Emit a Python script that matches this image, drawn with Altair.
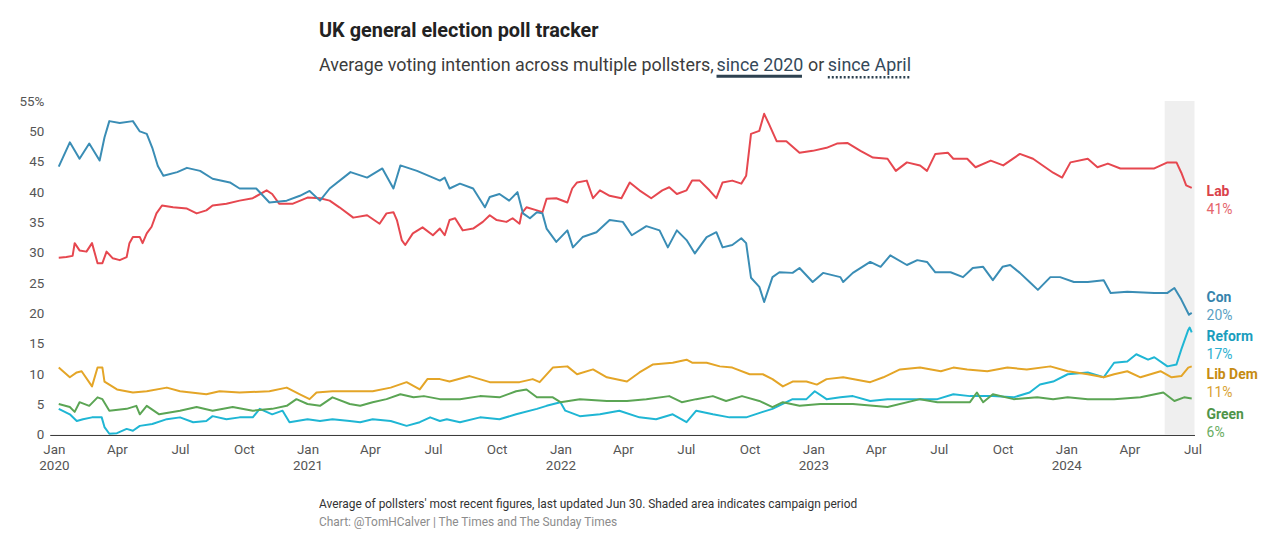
import altair as alt
import pandas as pd

# ---------------- data ----------------
PARTIES = ["Lab", "Con", "Reform", "Lib Dem", "Green"]

LAB = [("2020-01-08",29.2),("2020-01-19",29.3),("2020-01-28",29.5),("2020-01-31",31.6),("2020-02-07",30.4),("2020-02-17",30.2),("2020-02-25",31.6),("2020-03-04",28.3),("2020-03-11",28.3),("2020-03-17",30.2),("2020-03-26",29.1),("2020-04-05",28.8),("2020-04-15",29.3),("2020-04-19",31.6),("2020-04-24",32.6),("2020-05-04",32.6),("2020-05-08",31.6),("2020-05-14",33.2),("2020-05-21",34.3),("2020-05-28",36.5),("2020-06-05",37.8),("2020-06-21",37.5),("2020-07-11",37.3),("2020-07-25",36.5),("2020-08-08",37.0),("2020-08-17",37.8),("2020-09-06",38.1),("2020-09-25",38.6),("2020-10-14",39.0),("2020-11-03",40.3),("2020-11-11",39.7),("2020-11-21",38.1),("2020-12-11",38.1),("2021-01-01",39.1),("2021-01-19",39.0),("2021-02-02",38.6),("2021-02-16",37.5),("2021-03-08",35.8),("2021-03-28",36.2),("2021-04-15",34.8),("2021-04-25",36.5),("2021-05-05",36.7),("2021-05-10",35.4),("2021-05-17",32.1),("2021-05-22",31.3),("2021-06-02",33.2),("2021-06-16",34.2),("2021-07-01",32.9),("2021-07-11",34.0),("2021-07-18",32.9),("2021-07-25",35.4),("2021-08-02",35.7),("2021-08-13",33.7),("2021-08-28",34.0),("2021-09-11",35.1),("2021-09-21",36.2),("2021-10-01",35.4),("2021-10-15",35.1),("2021-10-24",35.7),("2021-11-03",34.8),("2021-11-06",36.5),("2021-11-13",37.5),("2021-11-28",37.0),("2021-12-06",36.7),("2021-12-12",38.9),("2021-12-26",39.0),("2022-01-11",38.3),("2022-01-18",40.6),("2022-01-25",41.6),("2022-02-08",41.9),("2022-02-17",39.0),("2022-02-27",40.3),("2022-03-13",39.4),("2022-03-30",39.0),("2022-04-11",41.6),("2022-04-25",40.3),("2022-05-12",39.0),("2022-05-28",40.3),("2022-06-07",40.8),("2022-06-18",39.7),("2022-07-02",40.3),("2022-07-10",41.9),("2022-07-21",41.9),("2022-08-04",40.3),("2022-08-14",39.0),("2022-08-23",41.6),("2022-09-06",41.9),("2022-09-19",41.4),("2022-09-26",42.7),("2022-10-03",49.6),("2022-10-15",50.1),("2022-10-22",52.9),("2022-10-29",51.2),("2022-11-09",48.4),("2022-11-23",48.4),("2022-12-12",46.5),("2022-12-31",46.8),("2023-01-20",47.3),("2023-02-04",48.0),("2023-02-19",48.1),("2023-03-10",46.8),("2023-03-28",45.7),("2023-04-18",45.5),("2023-04-30",43.5),("2023-05-16",44.9),("2023-06-04",44.4),("2023-06-14",43.5),("2023-06-26",46.3),("2023-07-14",46.5),("2023-07-22",45.5),("2023-08-11",45.5),("2023-08-23",44.1),("2023-09-14",45.2),("2023-10-02",44.4),("2023-10-26",46.3),("2023-11-14",45.5),("2023-12-13",43.2),("2023-12-26",42.4),("2024-01-07",44.9),("2024-02-01",45.5),("2024-02-15",44.1),("2024-03-01",44.7),("2024-03-19",43.9),("2024-04-13",43.9),("2024-05-07",43.9),("2024-05-26",44.9),("2024-06-08",44.9),("2024-06-15",43.2),("2024-06-22",41.1),("2024-06-30",40.7)]

CON = [("2020-01-08",44.2),("2020-01-24",48.2),("2020-02-07",45.5),("2020-02-21",48.0),("2020-03-07",45.2),("2020-03-14",49.0),("2020-03-21",51.7),("2020-04-05",51.4),("2020-04-24",51.7),("2020-05-04",50.0),("2020-05-14",49.6),("2020-05-22",47.3),("2020-05-30",44.3),("2020-06-07",42.7),("2020-06-27",43.3),("2020-07-11",44.0),("2020-07-30",43.5),("2020-08-17",42.2),("2020-09-11",41.6),("2020-09-25",40.6),("2020-10-19",40.6),("2020-11-07",38.3),("2020-12-02",38.6),("2020-12-21",39.4),("2021-01-04",40.2),("2021-01-19",38.6),("2021-02-02",40.6),("2021-03-04",43.3),("2021-03-28",42.4),("2021-04-19",43.9),("2021-05-05",40.6),("2021-05-15",44.4),("2021-06-08",43.5),("2021-07-01",42.4),("2021-07-11",41.9),("2021-07-18",42.4),("2021-07-25",40.6),("2021-08-09",41.4),("2021-08-28",40.6),("2021-09-14",37.5),("2021-09-21",39.2),("2021-10-05",39.7),("2021-10-19",38.6),("2021-10-31",40.0),("2021-11-08",36.5),("2021-11-18",35.7),("2021-11-28",36.7),("2021-12-06",36.5),("2021-12-12",34.0),("2021-12-26",31.8),("2022-01-11",33.7),("2022-01-19",30.9),("2022-02-02",32.6),("2022-02-22",33.4),("2022-03-13",35.4),("2022-04-01",35.1),("2022-04-14",32.9),("2022-05-05",34.4),("2022-05-24",33.7),("2022-06-05",30.9),("2022-06-18",33.7),("2022-07-02",32.1),("2022-07-14",29.9),("2022-07-31",32.6),("2022-08-14",33.4),("2022-08-23",30.9),("2022-09-06",31.3),("2022-09-19",32.4),("2022-09-26",31.6),("2022-10-03",25.9),("2022-10-15",24.4),("2022-10-22",21.9),("2022-11-03",26.0),("2022-11-13",26.8),("2022-12-02",26.7),("2022-12-12",27.5),("2022-12-31",25.2),("2023-01-15",26.7),("2023-02-09",26.0),("2023-02-13",25.2),("2023-02-27",26.7),("2023-03-24",28.5),("2023-04-08",27.7),("2023-04-22",29.6),("2023-05-16",28.0),("2023-05-31",28.8),("2023-06-14",28.5),("2023-06-26",26.8),("2023-07-18",26.8),("2023-08-05",26.0),("2023-08-19",27.5),("2023-09-03",27.7),("2023-09-17",25.5),("2023-10-01",27.7),("2023-10-12",28.0),("2023-10-26",26.7),("2023-11-09",25.2),("2023-11-21",23.9),("2023-12-09",26.0),("2023-12-23",26.0),("2024-01-12",25.2),("2024-02-01",25.2),("2024-02-24",25.5),("2024-03-05",23.4),("2024-03-29",23.6),("2024-05-07",23.4),("2024-05-26",23.4),("2024-06-05",24.2),("2024-06-15",22.3),("2024-06-26",19.8),("2024-06-30",20.1)]

REFORM = [("2020-01-08",4.3),("2020-01-24",3.4),("2020-02-03",2.3),("2020-02-12",2.6),("2020-02-25",2.9),("2020-03-10",2.9),("2020-03-14",1.3),("2020-03-21",0.2),("2020-04-01",0.3),("2020-04-15",1.0),("2020-04-24",0.7),("2020-05-04",1.5),("2020-05-22",1.8),("2020-06-12",2.6),("2020-07-01",2.9),("2020-07-20",2.1),("2020-08-08",2.3),("2020-08-17",3.1),("2020-09-06",2.6),("2020-09-25",2.9),("2020-10-14",2.9),("2020-10-24",4.3),("2020-11-11",3.4),("2020-11-26",4.0),("2020-12-06",2.1),("2021-01-01",2.6),("2021-01-19",2.3),("2021-02-06",2.6),("2021-03-03",2.3),("2021-03-18",2.1),("2021-04-05",2.6),("2021-05-01",2.3),("2021-05-24",1.5),("2021-06-12",2.1),("2021-06-27",2.9),("2021-07-11",2.3),("2021-07-21",2.6),("2021-08-09",2.1),("2021-09-07",2.9),("2021-10-05",2.6),("2021-10-29",3.4),("2021-11-28",4.3),("2021-12-12",4.8),("2022-01-01",5.4),("2022-01-08",4.0),("2022-01-29",3.1),("2022-02-27",3.4),("2022-03-27",4.0),("2022-04-25",2.9),("2022-05-19",2.6),("2022-06-12",3.4),("2022-07-02",2.1),("2022-07-16",4.0),("2022-08-09",3.4),("2022-09-02",2.9),("2022-09-26",2.9),("2022-10-20",3.8),("2022-11-03",4.3),("2022-12-02",5.9),("2022-12-22",5.9),("2023-01-03",7.2),("2023-01-20",5.9),("2023-02-09",6.2),("2023-02-27",6.4),("2023-03-24",5.6),("2023-04-18",5.9),("2023-06-04",5.9),("2023-06-29",5.9),("2023-07-22",6.7),("2023-08-15",6.4),("2023-09-17",6.4),("2023-10-17",6.2),("2023-11-09",7.0),("2023-11-24",8.3),("2023-12-13",8.8),("2024-01-03",10.0),("2024-02-01",10.3),("2024-02-24",9.5),("2024-03-10",11.9),("2024-03-29",12.1),("2024-04-11",13.3),("2024-04-28",12.4),("2024-05-07",12.8),("2024-05-26",11.3),("2024-06-08",11.6),("2024-06-15",14.1),("2024-06-25",17.3),("2024-06-27",17.7),("2024-06-30",16.9)]

LIBDEM = [("2020-01-08",11.1),("2020-01-24",9.5),("2020-02-03",10.3),("2020-02-10",10.5),("2020-02-25",8.0),("2020-03-04",11.1),("2020-03-11",11.1),("2020-03-14",8.8),("2020-03-21",8.3),("2020-04-01",7.5),("2020-04-24",7.0),("2020-05-14",7.2),("2020-06-12",7.8),("2020-07-01",7.2),("2020-08-08",6.7),("2020-08-27",7.2),("2020-09-25",7.0),("2020-11-07",7.2),("2020-12-02",7.8),("2020-12-21",6.7),("2021-01-04",5.9),("2021-01-14",7.0),("2021-02-06",7.2),("2021-03-18",7.2),("2021-04-05",7.2),("2021-05-01",7.8),("2021-05-24",8.7),("2021-06-12",7.5),("2021-06-23",9.2),("2021-07-11",9.2),("2021-07-25",8.8),("2021-08-23",9.7),("2021-09-21",8.7),("2021-10-15",8.7),("2021-11-03",8.7),("2021-11-22",9.2),("2021-12-02",8.7),("2021-12-21",11.1),("2022-01-11",11.3),("2022-01-25",10.0),("2022-02-17",10.8),("2022-03-09",9.5),("2022-04-07",8.8),("2022-04-25",10.3),("2022-05-14",11.6),("2022-06-12",11.9),("2022-07-02",12.4),("2022-07-10",11.9),("2022-07-31",11.9),("2022-08-19",11.3),("2022-09-06",11.1),("2022-10-01",10.0),("2022-10-20",10.0),("2022-11-03",9.2),("2022-11-18",8.0),("2022-12-02",8.8),("2022-12-22",8.8),("2023-01-06",8.3),("2023-01-20",9.2),("2023-02-13",9.5),("2023-03-24",8.7),("2023-04-12",9.5),("2023-05-06",10.8),("2023-06-04",11.1),("2023-07-04",10.5),("2023-07-22",11.1),("2023-08-11",10.8),("2023-09-09",10.5),("2023-10-08",11.1),("2023-11-05",10.8),("2023-12-09",11.3),("2024-01-03",10.5),("2024-02-01",10.0),("2024-02-24",9.5),("2024-03-10",10.0),("2024-03-29",10.5),("2024-04-17",9.5),("2024-05-16",10.5),("2024-06-01",9.5),("2024-06-15",9.7),("2024-06-25",11.1),("2024-06-30",11.3)]

GREEN = [("2020-01-08",5.1),("2020-01-24",4.6),("2020-01-31",3.8),("2020-02-07",5.4),("2020-02-21",4.8),("2020-03-04",6.2),("2020-03-11",5.9),("2020-03-21",4.0),("2020-04-15",4.3),("2020-04-29",4.8),("2020-05-04",3.4),("2020-05-14",4.8),("2020-06-01",3.4),("2020-07-01",4.0),("2020-07-25",4.6),("2020-08-17",4.0),("2020-09-15",4.6),("2020-10-14",4.0),("2020-11-11",4.3),("2020-12-02",4.8),("2020-12-16",5.9),("2021-01-01",5.1),("2021-01-19",4.8),("2021-02-06",6.2),("2021-03-03",5.1),("2021-03-18",4.8),("2021-04-05",5.4),("2021-04-25",5.9),("2021-05-15",6.7),("2021-06-03",6.2),("2021-06-18",6.4),("2021-07-11",5.9),("2021-08-09",5.9),("2021-09-07",6.4),("2021-10-05",6.2),("2021-10-29",7.2),("2021-11-13",7.5),("2021-11-28",6.2),("2021-12-21",6.2),("2022-01-01",5.4),("2022-01-29",5.9),("2022-03-09",5.6),("2022-04-07",5.6),("2022-05-05",5.9),("2022-06-07",6.4),("2022-06-25",5.4),("2022-07-16",5.9),("2022-08-09",6.4),("2022-08-28",5.6),("2022-09-20",6.4),("2022-10-15",5.6),("2022-11-03",4.6),("2022-11-18",5.4),("2022-12-12",4.8),("2023-01-11",5.1),("2023-02-09",5.1),("2023-02-27",5.1),("2023-04-18",4.6),("2023-06-04",5.9),("2023-06-29",5.4),("2023-08-15",5.4),("2023-08-25",7.0),("2023-09-03",5.4),("2023-09-17",6.7),("2023-10-17",5.9),("2023-11-20",6.2),("2023-12-13",5.9),("2024-01-03",6.2),("2024-02-01",5.9),("2024-03-10",5.9),("2024-04-17",6.2),("2024-05-20",7.0),("2024-06-05",5.6),("2024-06-19",6.2),("2024-06-30",6.0)]

CAMPAIGN = [("2024-05-22", "2024-07-04")]
Y_TICKS = [0, 5, 10, 15, 20, 25, 30, 35, 40, 45, 50, 55]

TITLE = "UK general election poll tracker"
SUB_MAIN = "Average voting intention across multiple pollsters,"
SUB_LINK1 = "since 2020"
SUB_OR = "or"
SUB_LINK2 = "since April"
NOTE = "Average of pollsters' most recent figures, last updated Jun 30. Shaded area indicates campaign period"
SOURCE = "Chart: @TomHCalver | The Times and The Sunday Times"

# ---------------- styles ----------------
FONT = "Roboto"
LINE_COLORS = {"Lab": "#e6474f", "Con": "#3a8db5", "Reform": "#1fb6d4",
               "Lib Dem": "#e4a527", "Green": "#5ba554"}
NAME_COLORS = {"Lab": "#da424a", "Con": "#3583ac", "Reform": "#1a9dbd",
               "Lib Dem": "#c68b12", "Green": "#4f9449"}
PCT_COLORS = {"Lab": "#e5666c", "Con": "#5a9fc3", "Reform": "#2eb0cf",
              "Lib Dem": "#d8a233", "Green": "#6aac62"}
NAME_NUDGE = {"Lab": 4, "Con": -15, "Reform": 5, "Lib Dem": 9, "Green": 17}

W, H = 1152, 336

series = {"Lab": LAB, "Con": CON, "Reform": REFORM, "Lib Dem": LIBDEM, "Green": GREEN}
frames = []
for p in PARTIES:
    d = pd.DataFrame(series[p], columns=["date", "value"])
    d["party"] = p
    frames.append(d)
df = pd.concat(frames, ignore_index=True)

last = df.groupby("party", sort=False).tail(1).copy()
last["pct"] = last["value"].round().astype(int).astype(str) + "%"

x_scale = alt.Scale(type="utc",
                    domain=[alt.DateTime(year=2019, month=12, date=26, utc=True),
                            alt.DateTime(year=2024, month=7, date=4, utc=True)])
y_scale = alt.Scale(domain=[0, 55], nice=False)

x_axis = alt.Axis(
    title=None, grid=False, ticks=False, tickSize=0, domain=True,
    domainColor="#333333", domainWidth=1,
    tickCount={"interval": "month", "step": 3},
    labelExpr=("utcFormat(datum.value, '%m') == '01' ? "
               "[utcFormat(datum.value, '%b'), utcFormat(datum.value, '%Y')] : "
               "utcFormat(datum.value, '%b')"),
    labelFont=FONT, labelFontSize=13.5, labelColor="#555555",
    labelLineHeight=16, labelPadding=8, labelFlush=False, labelOverlap=False,
)
y_axis = alt.Axis(
    title=None, grid=False, ticks=False, tickSize=0, domain=False,
    values=Y_TICKS, labelExpr="datum.value == 55 ? '55%' : datum.label",
    labelFont=FONT, labelFontSize=13.5, labelColor="#555555", labelPadding=6,
    labelOverlap=False, labelFlush=False,
)

X_DATE = alt.X("date:T", scale=x_scale, axis=x_axis)
Y_VAL = alt.Y("value:Q", scale=y_scale, axis=y_axis)

shade = alt.Chart(pd.DataFrame(CAMPAIGN, columns=["start", "end"])).mark_rect(
    color="#efefef").encode(
    x=alt.X("start:T", scale=x_scale, axis=x_axis), x2="end:T")

lines = alt.Chart(df).mark_line(strokeWidth=2, strokeJoin="round").encode(
    x=X_DATE, y=Y_VAL,
    color=alt.Color("party:N", legend=None,
                    scale=alt.Scale(domain=PARTIES,
                                    range=[LINE_COLORS[p] for p in PARTIES])),
    detail="party:N",
)

layers = [shade, lines]
for p in PARTIES:
    sub = last[last["party"] == p]
    layers.append(alt.Chart(sub).mark_text(
        align="left", baseline="middle", dx=15, dy=NAME_NUDGE[p],
        font=FONT, fontSize=14, fontWeight="bold", color=NAME_COLORS[p]).encode(
        x=X_DATE, y=Y_VAL, text="party:N"))
    layers.append(alt.Chart(sub).mark_text(
        align="left", baseline="middle", dx=15, dy=NAME_NUDGE[p] + 18,
        font=FONT, fontSize=14, color=PCT_COLORS[p]).encode(
        x=X_DATE, y=Y_VAL, text="pct:N"))


def label(txt, x, y, size, color, weight="normal"):
    return alt.Chart(pd.DataFrame({"t": [txt]})).mark_text(
        align="left", baseline="alphabetic", font=FONT, fontSize=size,
        fontWeight=weight, color=color).encode(
        x=alt.value(x), y=alt.value(y), text="t:N")


layers += [
    label(TITLE, 271, -64, 20, "#222222", "bold"),
    label(SUB_MAIN, 271, -30, 18, "#3c3c3c"),
    label(SUB_LINK1, 671, -30, 18, "#34495a"),
    label(SUB_OR, 763, -30, 18, "#3c3c3c"),
    label(SUB_LINK2, 783, -30, 18, "#34495a"),
    label(NOTE, 271, 409, 12, "#333333"),
    label(SOURCE, 271, 428, 12, "#8c8c8c"),
]

u1 = alt.Chart(pd.DataFrame({"k": [1]})).mark_rule(
    color="#2d4150", strokeWidth=3).encode(
    x=alt.value(671), x2=alt.value(757), y=alt.value(-25))
u2 = alt.Chart(pd.DataFrame({"k": [1]})).mark_rule(
    color="#2d4150", strokeWidth=2.5, strokeDash=[2, 2]).encode(
    x=alt.value(783), x2=alt.value(865), y=alt.value(-24))
layers += [u1, u2]

chart = alt.layer(*layers).properties(
    width=W, height=H,
    autosize=alt.AutoSizeParams(type="none"),
    padding={"left": 42, "top": 92, "right": 78, "bottom": 99},
    background="white",
).configure_view(stroke=None)

chart.save("out.html", embed_options={"renderer": "svg", "actions": False})
